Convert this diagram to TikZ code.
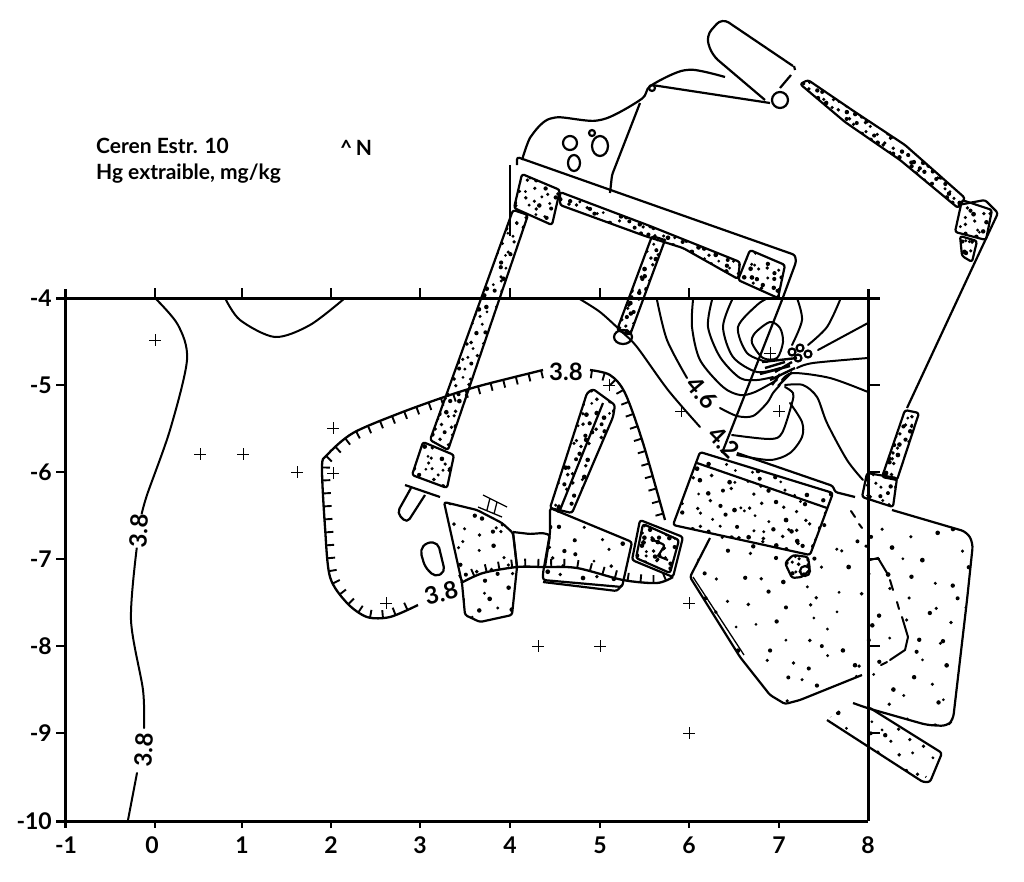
\documentclass[tikz,border=0pt]{standalone}
\usepackage{fontspec}
\setmainfont{Lato}
\usetikzlibrary{decorations.markings}

% dots inside a closed path: x0, y0, x1, y1, spacing, path
\newcommand{\stipple}[6]{%
  \begin{scope}
    \clip #6;
    \pgfmathsetmacro\nextx{#1+#5}
    \pgfmathsetmacro\nexty{#2+#5}
    \foreach \px in {#1,\nextx,...,#3}
      \foreach \py in {#2,\nexty,...,#4}{
        \pgfmathsetmacro\dotr{1.5+0.9*rnd}
        \fill ({\px+#5*rnd},{\py+#5*rnd}) circle (\dotr pt);
      }
  \end{scope}}
\newcommand{\stipshape}[6]{%
  \stipple{#1}{#2}{#3}{#4}{#5}{#6}
  \draw[wall] #6;}

\begin{document}
\begin{tikzpicture}[
      x=1pt,y=-1pt,
      wall/.style={line width=2.2pt,line join=round,rounded corners=2.5pt},
      frame/.style={line width=3pt},
      contour/.style={line width=2pt,line cap=round},
      thinline/.style={line width=1.3pt},
      crossmark/.style={line width=1pt},
      hachure/.style={line width=2.3pt,postaction={decorate},
         decoration={markings,mark=between positions 2pt and -2pt step 13pt with
           {\draw[line width=1.9pt] (0pt,0pt)--(0pt,#1);}}},
      axislabel/.style={font=\fontsize{23}{23}\selectfont\bfseries,inner sep=0pt},
      titlelabel/.style={font=\fontsize{21}{21}\selectfont\bfseries,inner sep=0pt,anchor=base west},
      levellabel/.style={font=\fontsize{24}{24}\selectfont\bfseries,inner sep=0pt,fill=white}
      ]
\fill[white] (0,0) rectangle (1024,881);
\useasboundingbox (0,0) rectangle (1024,881);
\pgfmathsetseed{11}

% title
\node[titlelabel] (title1) at (96,153) {Ceren Estr. 10};
\node[titlelabel] (title2) at (96,179) {Hg extraible, mg/kg};
\node[titlelabel] (north) at (340,155) {\^{}\,N};

% stippled floors
\stipple{690}{525}{975}{725}{21}{(710,530)--(690,577)--(740,657)--(770,695)--(785,704)--(862,680)--(852,703)--(927,725)--(947,726)--(953,720)--(973,543)--(967,532)--(833,490)--cycle}
\stipple{827}{700}{945}{785}{15}{(827,720)--(923,782)--(942,753)--(870,708)--(845,705)--cycle}

% stippled walls and blocks
\stipshape{670}{450}{835}{556}{12}{(700,452)--(833,493)--(810,555)--(673,525)--cycle}
\stipshape{444}{502}{518}{622}{14}{(444,502)--(477,510)--(502,523)--(513,533)--(517,567)--(512,615)--(480,622)--(465,615)--(462,583)--cycle}
\stipshape{543}{508}{632}{590}{15}{(550,508)--(632,542)--(622,587)--(543,580)--(543,573)--(550,533)--cycle}
\stipshape{550}{389}{615}{513}{9}{(550,508)--(587,393)--(593,389)--(615,405)--(613,417)--(572,513)--cycle}
\stipshape{514}{172}{560}{226}{8}{(522,174)--(560,190)--(552,225)--(514,208)--cycle}
\stipshape{738}{250}{786}{298}{8}{(750,250)--(785,265)--(778,298)--(738,280)--cycle}
\stipshape{412}{442}{455}{488}{9}{(423,442)--(454,455)--(447,488)--(412,475)--cycle}
\stipshape{955}{200}{998}{240}{8}{(962,200)--(992,210)--(986,240)--(955,232)--cycle}
\stipshape{958}{235}{978}{262}{6}{(960,236)--(977,241)--(972,262)--(962,256)--cycle}
\stipshape{862}{473}{897}{503}{8}{(867,473)--(897,478)--(893,507)--(862,497)--cycle}
\stipshape{430}{215}{530}{442}{8}{(513,210)--(528,215)--(448,450)--(430,440)--cycle}
\stipshape{616}{236}{666}{335}{7}{(652,236)--(665,240)--(630,335)--(617,330)--cycle}
\stipshape{560}{190}{745}{282}{7}{(560,192)--(650,226)--(740,262)--(738,279)--(683,248)--(645,236)--(560,205)--cycle}
\stipshape{800}{80}{965}{208}{7}{(800,84)--(808,80)--(855,112)--(905,145)--(965,198)--(958,208)--(900,160)--(845,122)--cycle}
\stipshape{883}{405}{920}{480}{7}{(905,410)--(919,413)--(897,480)--(882,477)--cycle}
\stipshape{785}{555}{810}{578}{6}{(785,563)--(793,555)--(808,557)--(810,570)--(802,577)--(792,578)--cycle}

% building outlines
\draw[wall] (517,165) -- (517,157) -- (795,255) -- (796,262) -- (782,300) -- (722,453);
\draw[thinline] (510,165) -- (510,236);
\draw[wall] plot[smooth] coordinates {(522,160) (532,135) (553,118) (600,120) (640,100) (652,85) (687,70) (725,77)};
\draw[wall] (640,103) -- (612,175) -- (610,193);
\draw[wall] (652,85) -- (770,103);
\draw[wall,rounded corners=8pt] (793,66) -- (722,18) -- (706,36) -- (712,55) -- (765,100);
\draw[wall] (795,70) -- (794,66);
\draw[wall] (791,75) -- (780,88);
\draw[wall] (780,100) circle (8);
\draw[wall] (570,143) circle (7);
\draw[wall] (600,146) ellipse (8 and 10);
\draw[wall] (574,163) ellipse (6 and 8);
\draw[wall] (592,133) circle (3);
\draw[wall] (652,88) circle (3);
\draw[wall] (958,205) -- (985,200) -- (998,213) -- (975,262) -- (907,408);
\draw[wall] (623,337) ellipse (9 and 7);
\draw[wall] (405,485) -- (440,497);
\draw[wall,rounded corners=5pt] (411,488) -- (397,513) -- (407,523) -- (425,495);
\draw[wall,rounded corners=5pt] (420,550) -- (427,542) -- (438,543) -- (445,572) -- (435,577) -- (425,567) -- cycle;
\draw[wall] (560,510) -- (603,403);
\draw[wall] (513,532) -- (530,534) -- (543,533) -- (550,535) -- (545,567);
\draw[wall] (513,532) -- (517,567);
\draw[wall] (543,582) -- (617,591) -- (622,585);
\draw[thinline] (483,495) -- (507,507) (478,507) -- (502,517) (490,498) -- (487,510) (497,502) -- (494,514);

% hearth
\draw[wall,fill=white] (640,520) -- (683,537) -- (673,577) -- (632,560) -- cycle;
\draw[wall] (643,524) -- (679,540) -- (670,573) -- (636,558) -- cycle;
\stipple{636}{524}{680}{572}{7}{(643,524)--(679,540)--(670,573)--(636,558)--cycle}
\draw[wall] (653,540) -- (665,545) -- (658,556) -- (668,560);

% big block top edges
\draw[wall] (697,463) -- (827,508);
\draw[wall] (737,453) -- (833,486) -- (835,492) -- (855,497);
\draw[wall] (710,538) -- (690,577) -- (740,657) -- (770,695) -- (785,704) -- (800,700) -- (862,675);
\draw[thinline] (693,577) -- (744,655);
\draw[wall,rounded corners=6pt] (892,510) -- (967,532) -- (973,543) -- (967,600) -- (953,720) -- (947,726) -- (927,725) -- (867,708) -- (853,703);
\draw[wall] (827,720) -- (923,782) -- (930,782) -- (942,753) -- (870,708);
\draw[wall] (805,571) circle (5);
\draw[contour] (870,560) -- (878,558) -- (887,573);
\foreach \i/\j/\k/\l in {890/580/893/590, 897/602/899/609, 902/617/908/637}
  \draw[contour] (\i,\j) -- (\k,\l);
\draw[contour] (908,637) -- (905,650) -- (890,660);
\draw[contour] (887,662) -- (881,665);
\draw[contour] (851,511) -- (855,517) (859,524) -- (862,528);

% frame
\draw[frame] (56,298) -- (880,298);
\draw[frame] (56,821) -- (868,821);
\draw[frame] (65,289) -- (65,828);
\draw[frame] (868,289) -- (868,821);
\foreach \i in {155,242,331,420,510,600,689,779}{
  \draw[line width=1.8pt] (\i,298) -- (\i,288);
  \draw[line width=1.8pt] (\i,821) -- (\i,828);}
\foreach \j in {385,472,559,646,733}{
  \draw[line width=1.8pt] (65,\j) -- (56,\j);
  \draw[line width=1.8pt] (868,\j) -- (880,\j);}

% axis numbers
\foreach \i/\t in {66/-1,152/0,242/1,331/2,420/3,510/4,600/5,689/6,779/7,868/8}
  \node[axislabel,anchor=center] (x\t) at (\i,845) {\t};
\foreach \j/\t in {298/-4,385/-5,472/-6,559/-7,646/-8,733/-9,821/-10}
  \node[axislabel,anchor=east] (y\t) at (52,\j) {\t};

% sample points
\foreach \i/\j in {155/340,200/454,243/454,297/472,333/428,333/473,386/603,538/646,600/646,
      689/603,689/733,609/385,681/411,779/411,770/353}
  \draw[crossmark] (\i,\j) +(-6,0) -- +(6,0) +(0,-6) -- +(0,6);

% contours
\draw[contour] plot[smooth] coordinates {(155,298) (178,325) (187,360) (170,430) (147,495) (141,517)};
\draw[contour] plot[smooth] coordinates {(137,546) (131,620) (143,690) (144,728)};
\draw[contour] (137,773) -- (128,820);
\draw[contour] plot[smooth] coordinates {(225,298) (240,320) (275,337) (310,325) (345,298)};
\draw[hachure=8pt] plot[smooth] coordinates {(543,370) (483,385) (450,395) (400,413) (353,433) (327,455) (322,467) (325,527) (330,577) (347,603) (367,617) (390,617) (418,605)};
\draw[hachure=8pt] plot[smooth] coordinates {(461,583) (483,573) (517,567) (543,567) (577,568) (623,580) (657,583) (673,577)};
\draw[hachure=-8pt] plot[smooth] coordinates {(590,370) (610,375) (625,393) (643,443) (665,520)};

\draw[contour] plot[smooth] coordinates {(578,298) (600,312) (622,332) (637,347) (668,390) (700,427)};
\draw[contour] plot[smooth] coordinates {(657,300) (667,340) (687,378)};
\draw[contour] plot[smooth] coordinates {(720,408) (737,416) (753,416) (767,403) (773,393) (780,385)};
\draw[contour] plot[smooth] coordinates {(693,300) (692,327) (700,360) (723,387) (740,395) (755,392) (777,380)};
\draw[contour] plot[smooth] coordinates {(712,300) (708,327) (720,357) (740,378) (757,380) (773,377)};
\draw[contour] plot[smooth] coordinates {(732,300) (723,327) (733,357) (757,372) (780,368)};
\draw[contour] plot[smooth] coordinates {(768,298) (757,305) (738,327) (747,353) (767,362)};
\draw[contour] plot[smooth] coordinates {(797,298) (802,320) (792,345)};
\draw[contour] plot[smooth cycle] coordinates {(770,322) (755,333) (752,343) (763,358) (777,358) (783,342) (780,328)};
\draw[contour] plot[smooth] coordinates {(840,300) (827,327) (808,345)};
\draw[contour] (868,323) -- (818,350);
\draw[contour] plot[smooth] coordinates {(868,358) (813,363) (797,368)};
\draw[contour] plot[smooth] coordinates {(868,392) (830,378) (793,373) (782,380)};
\draw[contour] plot[smooth] coordinates {(785,385) (803,385) (817,397) (827,423) (847,460) (863,480)};
\draw[contour] plot[smooth] coordinates {(785,387) (793,393) (792,403) (782,433) (770,439) (732,435)};
\draw[contour] plot[smooth] coordinates {(790,403) (802,422) (802,437) (790,453) (770,460) (737,455)};

% rubble at the hot spot
\foreach \i/\j in {792/352,800/348,808/354,798/358}
  \draw[wall] (\i,\j) circle (3.5);
\foreach \i/\j/\k/\l in {762/362/797/358, 760/374/790/366, 770/380/795/368, 778/386/792/372, 765/368/785/362, 775/372/792/362, 772/385/780/374}
  \draw[line width=2.4pt] (\i,\j) -- (\k,\l);

% level labels
\node[levellabel,rotate=85] (lev1) at (139,531) {3.8};
\node[levellabel,rotate=85] (lev2) at (144,750) {3.8};
\node[levellabel] (lev3) at (566,372) {3.8};
\node[levellabel,rotate=15] (lev4) at (441,593) {3.8};
\node[levellabel,rotate=-50,fill=none] (lev5) at (702,393) {4.6};
\node[levellabel,rotate=-45,fill=none] (lev6) at (724,442) {4.2};
\end{tikzpicture}
\end{document}
